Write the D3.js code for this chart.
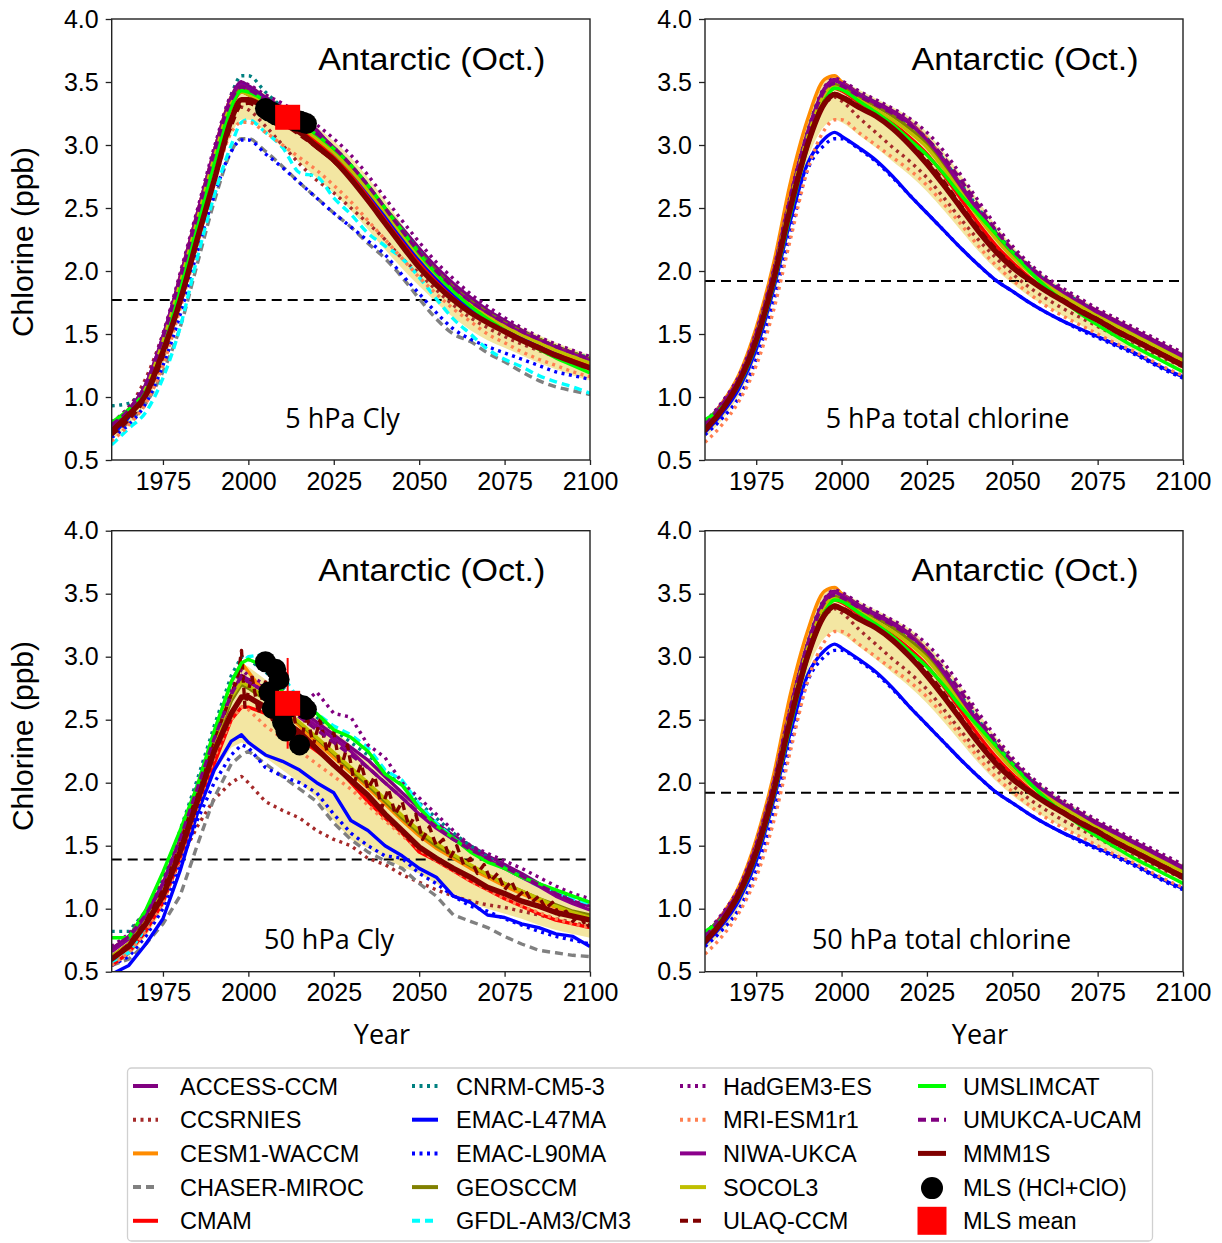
<!DOCTYPE html>
<html><head><meta charset="utf-8">
<script src="https://cdn.jsdelivr.net/npm/d3@7"></script>
<style>body{margin:0;background:#fff;} svg{display:block;}</style>
</head><body><svg id="c" width="1222" height="1243"></svg>
<script>
// ---------------- DATA ----------------
const years = [1960,1965,1970,1975,1980,1985,1990,1995,1998,2000,2005,2010,2015,2020,2025,2030,2035,2040,2045,2050,2055,2060,2065,2070,2075,2080,2085,2090,2095,2100];
const modelNames = ["ACCESS-CCM","CCSRNIES","CESM1-WACCM","CHASER-MIROC","CMAM","CNRM-CM5-3","EMAC-L47MA","EMAC-L90MA","GEOSCCM","GFDL-AM3/CM3","HadGEM3-ES","MRI-ESM1r1","NIWA-UKCA","SOCOL3","ULAQ-CCM","UMSLIMCAT","UMUKCA-UCAM"];
const yTicks = [0.5,1.0,1.5,2.0,2.5,3.0,3.5,4.0];
const xTicks = [1975,2000,2025,2050,2075,2100];

// 5 hPa Cly (rows in modelNames order)
const cly5 = [
 [.78,.9,1.1,1.48,1.95,2.45,2.95,3.38,3.5,3.47,3.38,3.3,3.22,3.12,2.96,2.82,2.66,2.5,2.34,2.18,2.03,1.9,1.79,1.69,1.61,1.53,1.46,1.4,1.35,1.3],
 [.8,.92,1.15,1.5,1.95,2.45,2.9,3.22,3.3,3.28,3.15,3.0,2.85,2.72,2.62,2.5,2.38,2.25,2.1,1.98,1.85,1.73,1.63,1.55,1.48,1.42,1.37,1.32,1.27,1.22],
 [.75,.88,1.08,1.45,1.95,2.45,2.95,3.38,3.45,3.42,3.33,3.24,3.14,3.03,2.92,2.78,2.62,2.44,2.27,2.1,1.95,1.82,1.71,1.62,1.55,1.48,1.42,1.36,1.31,1.26],
 [.72,.8,.95,1.2,1.55,2.05,2.55,2.95,3.05,3.05,2.95,2.83,2.7,2.58,2.46,2.35,2.22,2.1,1.95,1.78,1.62,1.5,1.44,1.35,1.28,1.2,1.13,1.08,1.05,1.02],
 [.72,.85,1.05,1.4,1.85,2.35,2.85,3.3,3.42,3.4,3.32,3.23,3.13,3.02,2.9,2.76,2.6,2.42,2.25,2.08,1.93,1.8,1.69,1.6,1.53,1.46,1.4,1.34,1.29,1.24],
 [.93,.95,1.1,1.45,1.93,2.45,2.95,3.4,3.55,3.55,3.42,3.3,3.2,3.1,2.98,2.84,2.68,2.5,2.33,2.16,2.0,1.87,1.76,1.67,1.59,1.52,1.46,1.4,1.35,1.31],
 [.7,.84,1.05,1.42,1.9,2.4,2.9,3.35,3.48,3.45,3.36,3.27,3.17,3.06,2.94,2.8,2.63,2.45,2.27,2.1,1.95,1.82,1.71,1.62,1.54,1.47,1.4,1.34,1.28,1.23],
 [.68,.78,.95,1.25,1.65,2.15,2.6,2.95,3.04,3.04,2.93,2.82,2.7,2.58,2.46,2.35,2.24,2.13,1.97,1.82,1.67,1.54,1.46,1.4,1.35,1.3,1.25,1.2,1.17,1.14],
 [.76,.88,1.08,1.45,1.92,2.42,2.92,3.35,3.45,3.43,3.35,3.27,3.18,3.08,2.97,2.83,2.67,2.5,2.32,2.15,2.0,1.87,1.76,1.67,1.59,1.52,1.46,1.4,1.35,1.3],
 [.62,.75,.88,1.15,1.55,2.1,2.6,3.0,3.18,3.2,3.1,2.98,2.78,2.75,2.58,2.45,2.3,2.2,2.1,1.95,1.78,1.62,1.5,1.38,1.3,1.24,1.17,1.12,1.08,1.03],
 [.8,.92,1.12,1.5,1.98,2.48,2.98,3.4,3.5,3.48,3.4,3.33,3.25,3.16,3.05,2.92,2.76,2.58,2.4,2.23,2.07,1.94,1.82,1.72,1.63,1.55,1.48,1.42,1.37,1.32],
 [.65,.78,.95,1.25,1.7,2.2,2.7,3.1,3.18,3.18,3.1,3.0,2.9,2.8,2.68,2.55,2.4,2.25,2.1,1.95,1.82,1.7,1.6,1.5,1.43,1.36,1.3,1.25,1.2,1.16],
 [.76,.9,1.1,1.48,1.95,2.45,2.95,3.38,3.48,3.45,3.36,3.28,3.2,3.1,2.98,2.84,2.67,2.49,2.31,2.14,1.99,1.86,1.75,1.66,1.58,1.51,1.45,1.39,1.34,1.29],
 [.74,.87,1.07,1.44,1.9,2.4,2.9,3.33,3.42,3.4,3.32,3.24,3.15,3.05,2.94,2.8,2.64,2.47,2.29,2.12,1.97,1.84,1.73,1.64,1.56,1.49,1.43,1.37,1.32,1.27],
 [.7,.82,1.0,1.32,1.75,2.25,2.72,3.15,3.32,3.33,3.25,3.17,3.08,2.98,2.87,2.73,2.56,2.38,2.2,2.03,1.89,1.77,1.67,1.59,1.52,1.45,1.39,1.33,1.28,1.23],
 [.8,.9,1.05,1.38,1.85,2.35,2.85,3.3,3.43,3.42,3.35,3.27,3.18,3.08,2.97,2.84,2.68,2.5,2.32,2.14,1.98,1.84,1.72,1.62,1.53,1.45,1.38,1.31,1.25,1.19],
 [.78,.9,1.1,1.47,1.94,2.44,2.94,3.36,3.46,3.44,3.36,3.28,3.19,3.09,2.98,2.84,2.68,2.5,2.32,2.15,2.0,1.87,1.76,1.67,1.59,1.52,1.46,1.4,1.35,1.3]
];
const mmmCly5 = [.73,.86,1.02,1.36,1.76,2.25,2.72,3.2,3.36,3.36,3.29,3.19,3.1,2.99,2.88,2.73,2.56,2.38,2.2,2.03,1.89,1.77,1.67,1.59,1.52,1.45,1.39,1.33,1.28,1.23];
const bandLoCly5 = [.66,.78,.95,1.25,1.68,2.18,2.68,3.08,3.2,3.2,3.1,2.98,2.86,2.74,2.62,2.48,2.33,2.17,2.02,1.88,1.75,1.63,1.53,1.45,1.39,1.33,1.27,1.22,1.17,1.13];
const bandHiCly5 = [.8,.93,1.12,1.5,1.98,2.48,2.98,3.42,3.5,3.48,3.4,3.32,3.24,3.14,3.03,2.9,2.74,2.56,2.37,2.19,2.03,1.9,1.79,1.7,1.62,1.55,1.49,1.43,1.38,1.33];

// total chlorine (5 hPa and 50 hPa panels look identical)
const totCl = [
 [.79,.95,1.16,1.51,1.99,2.6,3.1,3.45,3.52,3.5,3.41,3.34,3.27,3.18,3.05,2.88,2.68,2.48,2.31,2.16,2.03,1.92,1.83,1.75,1.68,1.61,1.54,1.47,1.4,1.33],
 [.76,.92,1.14,1.48,1.95,2.55,3.05,3.32,3.38,3.35,3.22,3.1,2.98,2.87,2.74,2.58,2.41,2.25,2.11,1.98,1.87,1.78,1.7,1.63,1.56,1.49,1.42,1.36,1.3,1.24],
 [.78,.95,1.18,1.55,2.05,2.7,3.2,3.52,3.55,3.5,3.4,3.32,3.25,3.17,3.05,2.87,2.67,2.46,2.28,2.12,2.0,1.9,1.81,1.73,1.65,1.58,1.51,1.44,1.37,1.3],
 null,
 [.74,.9,1.12,1.46,1.95,2.55,3.05,3.38,3.45,3.43,3.34,3.26,3.17,3.06,2.93,2.76,2.57,2.38,2.21,2.07,1.95,1.85,1.77,1.69,1.62,1.55,1.48,1.41,1.34,1.27],
 [.8,.95,1.15,1.5,1.98,2.58,3.1,3.45,3.5,3.48,3.4,3.33,3.25,3.16,3.05,2.88,2.69,2.5,2.32,2.16,2.03,1.92,1.83,1.75,1.67,1.6,1.53,1.46,1.39,1.32],
 [.72,.87,1.07,1.38,1.85,2.4,2.85,3.05,3.1,3.07,2.98,2.88,2.75,2.6,2.46,2.32,2.18,2.05,1.93,1.84,1.75,1.67,1.6,1.54,1.48,1.42,1.36,1.29,1.22,1.16],
 [.7,.83,1.0,1.3,1.75,2.3,2.8,3.0,3.05,3.05,2.97,2.87,2.74,2.6,2.46,2.32,2.18,2.05,1.93,1.84,1.75,1.67,1.6,1.53,1.47,1.41,1.35,1.28,1.21,1.15],
 [.76,.92,1.14,1.49,1.97,2.57,3.08,3.42,3.48,3.46,3.38,3.31,3.23,3.13,3.01,2.84,2.65,2.45,2.27,2.12,2.0,1.9,1.81,1.73,1.65,1.58,1.51,1.44,1.37,1.3],
 null,
 [.8,.96,1.17,1.52,2.0,2.6,3.1,3.46,3.53,3.51,3.43,3.36,3.29,3.21,3.1,2.95,2.76,2.56,2.37,2.2,2.06,1.95,1.86,1.78,1.7,1.63,1.56,1.49,1.42,1.35],
 [.64,.78,.97,1.25,1.68,2.25,2.8,3.12,3.2,3.2,3.1,3.0,2.9,2.8,2.68,2.53,2.37,2.2,2.05,1.93,1.82,1.72,1.64,1.57,1.5,1.43,1.37,1.3,1.23,1.17],
 [.78,.94,1.15,1.5,1.98,2.58,3.08,3.44,3.51,3.49,3.4,3.33,3.26,3.17,3.04,2.87,2.67,2.48,2.3,2.15,2.02,1.91,1.82,1.74,1.67,1.6,1.53,1.46,1.39,1.32],
 [.75,.91,1.13,1.48,1.96,2.56,3.06,3.4,3.46,3.44,3.36,3.28,3.2,3.1,2.98,2.81,2.62,2.43,2.26,2.11,1.99,1.89,1.8,1.72,1.64,1.57,1.5,1.43,1.36,1.29],
 [.74,.9,1.12,1.45,1.93,2.52,3.02,3.35,3.41,3.39,3.31,3.23,3.14,3.02,2.88,2.71,2.52,2.34,2.18,2.05,1.94,1.85,1.77,1.69,1.62,1.54,1.47,1.4,1.33,1.26],
 [.82,.92,1.1,1.42,1.88,2.45,2.98,3.35,3.45,3.44,3.35,3.26,3.16,3.04,2.92,2.77,2.6,2.45,2.3,2.15,2.0,1.87,1.76,1.66,1.57,1.49,1.41,1.34,1.27,1.2],
 [.78,.94,1.15,1.5,1.98,2.58,3.08,3.43,3.49,3.47,3.39,3.32,3.25,3.16,3.05,2.9,2.72,2.52,2.33,2.17,2.04,1.93,1.84,1.76,1.68,1.61,1.54,1.47,1.4,1.33]
];
const mmmTot = [.74,.9,1.12,1.45,1.92,2.5,3.0,3.33,3.4,3.38,3.3,3.23,3.13,3.0,2.85,2.68,2.5,2.32,2.16,2.03,1.93,1.84,1.76,1.68,1.61,1.53,1.46,1.39,1.32,1.25];
const bandLoTot = [.68,.82,1.02,1.33,1.78,2.35,2.88,3.15,3.2,3.18,3.08,2.98,2.87,2.76,2.63,2.48,2.32,2.16,2.02,1.9,1.8,1.72,1.64,1.57,1.5,1.44,1.38,1.32,1.26,1.2];
const bandHiTot = [.8,.96,1.18,1.55,2.05,2.68,3.18,3.52,3.56,3.52,3.44,3.37,3.3,3.22,3.1,2.94,2.76,2.56,2.37,2.2,2.06,1.95,1.86,1.78,1.7,1.63,1.56,1.49,1.42,1.35];

// 50 hPa Cly (ULAQ-CCM given separately on its own, denser year grid)
const cly50 = [
 [.68,.78,.95,1.2,1.55,1.95,2.35,2.7,2.85,2.82,2.75,2.68,2.58,2.48,2.38,2.28,2.18,2.05,1.92,1.8,1.68,1.58,1.5,1.42,1.35,1.28,1.2,1.12,1.06,1.02],
 [.62,.72,.88,1.08,1.38,1.65,1.87,2.0,2.05,2.0,1.85,1.78,1.72,1.62,1.55,1.5,1.4,1.35,1.27,1.21,1.15,1.1,1.06,1.03,1.01,.98,.95,.92,.89,.86],
 [.62,.72,.9,1.15,1.52,1.95,2.38,2.8,2.95,2.88,2.7,2.58,2.45,2.32,2.2,2.08,1.96,1.83,1.7,1.58,1.48,1.4,1.32,1.25,1.18,1.12,1.06,1.01,.97,.93],
 [.55,.6,.72,.88,1.1,1.5,1.88,2.15,2.22,2.25,2.15,2.05,1.95,1.85,1.68,1.55,1.45,1.38,1.32,1.2,1.1,.95,.9,.85,.78,.72,.67,.65,.63,.62],
 [.55,.65,.82,1.05,1.4,1.8,2.15,2.5,2.6,2.6,2.55,2.45,2.35,2.25,2.15,2.0,1.85,1.72,1.6,1.45,1.38,1.3,1.22,1.15,1.08,1.02,.96,.91,.88,.85],
 [.82,.82,.98,1.25,1.62,2.02,2.45,2.85,3.0,2.98,2.88,2.76,2.63,2.52,2.42,2.32,2.22,2.1,1.98,1.84,1.72,1.6,1.5,1.41,1.33,1.26,1.2,1.14,1.09,1.05],
 [.48,.55,.72,.92,1.3,1.75,2.1,2.33,2.38,2.32,2.22,2.17,2.1,2.0,1.92,1.7,1.62,1.5,1.42,1.32,1.25,1.1,1.05,.95,.93,.88,.85,.8,.78,.7],
 [.55,.62,.78,1.0,1.35,1.7,2.0,2.22,2.3,2.28,2.12,2.05,2.0,1.92,1.75,1.6,1.5,1.42,1.4,1.28,1.2,1.1,1.02,.98,.92,.87,.82,.78,.75,.72],
 [.62,.72,.9,1.13,1.48,1.9,2.3,2.65,2.78,2.75,2.66,2.57,2.47,2.35,2.23,2.1,1.98,1.85,1.72,1.6,1.5,1.42,1.34,1.27,1.2,1.14,1.08,1.03,.98,.95],
 [.58,.65,.85,1.15,1.55,1.98,2.4,2.8,2.95,3.0,3.02,2.85,2.65,2.55,2.45,2.38,2.28,2.1,2.02,1.83,1.68,1.56,1.46,1.38,1.32,1.25,1.18,1.13,1.08,1.04],
 [.7,.8,.98,1.22,1.58,1.98,2.4,2.75,2.9,2.85,2.78,2.65,2.6,2.72,2.55,2.52,2.3,2.2,2.0,1.88,1.75,1.62,1.5,1.44,1.38,1.32,1.25,1.18,1.12,1.08],
 [.55,.65,.82,1.05,1.4,1.8,2.2,2.5,2.6,2.58,2.45,2.35,2.25,2.15,2.05,1.95,1.82,1.7,1.58,1.47,1.38,1.3,1.22,1.15,1.08,1.02,.97,.92,.88,.85],
 [.66,.76,.93,1.18,1.52,1.92,2.32,2.68,2.82,2.8,2.72,2.65,2.55,2.45,2.35,2.25,2.12,2.0,1.88,1.75,1.64,1.55,1.47,1.39,1.32,1.25,1.18,1.1,1.04,.99],
 [.62,.72,.9,1.13,1.5,1.92,2.32,2.68,2.8,2.77,2.68,2.58,2.48,2.36,2.24,2.12,2.0,1.87,1.74,1.62,1.52,1.43,1.35,1.27,1.2,1.14,1.08,1.02,.97,.93],
 null,
 [.77,.77,.99,1.29,1.62,1.97,2.41,2.8,2.95,2.98,2.92,2.72,2.57,2.55,2.42,2.36,2.25,2.07,1.98,1.8,1.66,1.56,1.45,1.37,1.32,1.25,1.2,1.15,1.1,1.05],
 [.68,.78,.95,1.2,1.55,1.95,2.35,2.7,2.85,2.8,2.72,2.62,2.52,2.42,2.32,2.22,2.12,2.0,1.88,1.76,1.65,1.55,1.47,1.4,1.33,1.26,1.19,1.12,1.06,1.0]
];
const ulaqYears50 = [1960,1965,1970,1975,1980,1985,1990,1993,1995,1997,1998,1999,2001,2003,2005,2007,2009,2011,2013,2015,2017,2019,2021,2023,2025,2027,2029,2031,2033,2035,2037,2039,2041,2043,2045,2047,2049,2051,2053,2055,2057,2059,2061,2063,2065,2067,2069,2071,2073,2075,2077,2079,2081,2083,2085,2087,2089,2091,2093,2095,2097,2099,2100];
const ulaqCly50 = [.6,.72,.9,1.15,1.5,1.95,2.35,2.55,2.7,2.85,3.05,2.6,2.85,2.55,2.8,2.5,2.7,2.4,2.6,2.25,2.55,2.3,2.5,2.25,2.4,2.1,2.3,2.0,2.15,1.95,2.05,1.8,1.95,1.75,1.85,1.65,1.75,1.55,1.65,1.5,1.55,1.4,1.5,1.35,1.4,1.28,1.35,1.22,1.28,1.15,1.22,1.1,1.15,1.05,1.1,1.0,1.05,.95,.98,.9,.95,.85,.88];
const mmmCly50 = [.6,.7,.88,1.1,1.45,1.85,2.25,2.55,2.68,2.68,2.6,2.5,2.4,2.27,2.14,2.02,1.9,1.75,1.62,1.49,1.4,1.32,1.25,1.17,1.12,1.06,1.02,.97,.94,.91];
const bandLoCly50 = [.55,.62,.78,1.0,1.35,1.72,2.08,2.28,2.32,2.3,2.2,2.1,2.0,1.88,1.7,1.55,1.48,1.4,1.33,1.28,1.2,1.12,1.05,1.0,.96,.92,.87,.83,.8,.77];
const bandHiCly50 = [.7,.8,.98,1.25,1.6,2.02,2.42,2.8,2.95,2.92,2.82,2.72,2.62,2.52,2.42,2.3,2.18,2.05,1.92,1.8,1.68,1.58,1.49,1.4,1.33,1.26,1.19,1.13,1.07,1.02];

// MLS observations
const mlsYears = [2005,2006,2007,2008,2009,2010,2011,2012,2013,2014,2015,2016,2017];
const mlsCly5 = [3.29,3.27,3.26,3.24,3.23,3.22,3.22,3.21,3.2,3.19,3.19,3.18,3.17];
const mlsCly50 = [2.96,2.72,2.59,2.90,2.82,2.48,2.41,2.60,2.64,2.63,2.30,2.61,2.58];
const mlsMeanYear = [2011.5];
const mlsMeanCly5 = [3.22], mlsErrCly5 = [0.05];
const mlsMeanCly50 = [2.63], mlsErrCly50 = [0.36];
const refLevels = [1.77, 1.92, 1.39, 1.92];

// ---------------- STYLES ----------------
const modelColors = ["#800080","#a52a2a","#ff8c00","#808080","#ff0000","#008080","#0000ff","#0000ff","#808000","#00ffff","#800080","#ff7f50","#8b008b","#bfbf00","#800000","#00ff00","#800080"];
const modelDash = ["","3,4.5","","8,5","","3,4.5","","3,4.5","","8,5","3,4.5","3,4.5","","","8,5","","8,5"];
const mmmColor = "#800000";
const bandColor = "#f3e6a2";
const axisFont = "'Liberation Sans', Arial, sans-serif";
const labelFont = "'Open Sans', 'Noto Sans', sans-serif";

const svg = d3.select("#c");
svg.append("rect").attr("width",1222).attr("height",1243).attr("fill","#fff");

const panels = [
 {x0:111.7,x1:590,y0:460,y1:19,rows:cly5,mmm:mmmCly5,lo:bandLoCly5,hi:bandHiCly5,ref:refLevels[0],label:"5 hPa Cly",lx:342.5,ly:428,mls:mlsCly5,mean:mlsMeanCly5,err:mlsErrCly5,yl:242,curve:d3.curveMonotoneX},
 {x0:705,x1:1183,y0:460,y1:19,rows:totCl,mmm:mmmTot,lo:bandLoTot,hi:bandHiTot,ref:refLevels[1],label:"5 hPa total chlorine",lx:947.5,ly:428,curve:d3.curveMonotoneX},
 {x0:111.7,x1:590,y0:971.7,y1:530.7,rows:cly50,mmm:mmmCly50,lo:bandLoCly50,hi:bandHiCly50,ref:refLevels[2],label:"50 hPa Cly",lx:329,ly:949,mls:mlsCly50,mean:mlsMeanCly50,err:mlsErrCly50,yl:736,year:382,curve:d3.curveLinear,
  extra:{index:14,years:ulaqYears50,values:ulaqCly50}},
 {x0:705,x1:1183,y0:971.7,y1:530.7,rows:totCl,mmm:mmmTot,lo:bandLoTot,hi:bandHiTot,ref:refLevels[3],label:"50 hPa total chlorine",lx:941.5,ly:949,year:980,curve:d3.curveMonotoneX}
];

panels.forEach((p,pi)=>{
  const x = d3.scaleLinear().domain([1960,2100]).range([p.x0,p.x1]);
  const y = d3.scaleLinear().domain([0.5,4.0]).range([p.y0,p.y1]);
  const g = svg.append("g");
  const cid = "clip"+pi;
  g.append("clipPath").attr("id",cid).append("rect")
    .attr("x",p.x0).attr("y",p.y1).attr("width",p.x1-p.x0).attr("height",p.y0-p.y1);
  const pg = g.append("g").attr("clip-path",`url(#${cid})`);

  const area = d3.area().x((d,i)=>x(years[i])).y0((d,i)=>y(p.lo[i])).y1((d,i)=>y(p.hi[i])).curve(p.curve);
  pg.append("path").attr("d",area(years)).attr("fill",bandColor).attr("stroke","none");

  pg.append("line").attr("x1",p.x0).attr("x2",p.x1).attr("y1",y(p.ref)).attr("y2",y(p.ref))
    .attr("stroke","#000").attr("stroke-width",2).attr("stroke-dasharray","10,6");

  const line = d3.line().x((d,i)=>x(years[i])).y(d=>y(d)).curve(p.curve);
  p.rows.forEach((r,mi)=>{
    let d = null;
    if(r) d = line(r);
    else if(p.extra && p.extra.index===mi){
      const ex = p.extra;
      d = d3.line().x((v,i)=>x(ex.years[i])).y(v=>y(v)).curve(d3.curveLinear)(ex.values);
    }
    if(!d) return;
    pg.append("path").attr("d",d).attr("fill","none")
      .attr("stroke",modelColors[mi]).attr("stroke-width",3.4)
      .attr("stroke-dasharray",modelDash[mi]||null).attr("stroke-linejoin","round");
  });
  pg.append("path").attr("d",line(p.mmm)).attr("fill","none")
    .attr("stroke",mmmColor).attr("stroke-width",5.5).attr("stroke-linejoin","round").attr("stroke-linecap","round");

  if(p.mls){
    g.append("line").attr("x1",x(mlsMeanYear[0])).attr("x2",x(mlsMeanYear[0]))
      .attr("y1",y(p.mean[0]+p.err[0])).attr("y2",y(p.mean[0]-p.err[0]))
      .attr("stroke","#ff0000").attr("stroke-width",2);
    g.selectAll(null).data(p.mls).enter().append("circle")
      .attr("cx",(d,i)=>x(mlsYears[i])).attr("cy",d=>y(d)).attr("r",10.5).attr("fill","#000");
    g.append("rect").attr("x",x(mlsMeanYear[0])-12.5).attr("y",y(p.mean[0])-12.5)
      .attr("width",25).attr("height",25).attr("fill","#ff0000");
  }

  const ay = g.append("g").attr("transform",`translate(${p.x0},0)`)
    .call(d3.axisLeft(y).tickValues(yTicks).tickFormat(d3.format(".1f")).tickSize(6).tickPadding(7));
  const ax = g.append("g").attr("transform",`translate(0,${p.y0})`)
    .call(d3.axisBottom(x).tickValues(xTicks).tickFormat(d3.format("d")).tickSize(5).tickPadding(7));
  [ax,ay].forEach(a=>{
    a.select(".domain").remove();
    a.selectAll("line").attr("stroke","#222").attr("stroke-width",1.3);
    a.selectAll("text").attr("fill","#000").attr("font-family",axisFont);
  });
  ay.selectAll("text").attr("font-size",25);
  ax.selectAll("text").attr("font-size",25);
  g.append("rect").attr("x",p.x0).attr("y",p.y1).attr("width",p.x1-p.x0).attr("height",p.y0-p.y1)
    .attr("fill","none").attr("stroke","#222").attr("stroke-width",1.4);

  g.append("text").attr("x",(p.x0+p.x1)/2+81).attr("y",p.y1+50.5).attr("text-anchor","middle")
    .attr("font-family",axisFont).attr("font-size",31).attr("textLength",227).attr("lengthAdjust","spacingAndGlyphs")
    .text("Antarctic (Oct.)");
  g.append("text").attr("x",p.lx).attr("y",p.ly).attr("text-anchor","middle")
    .attr("font-family",labelFont).attr("font-size",27).text(p.label);
  if(p.yl){
    g.append("text").attr("transform",`translate(33,${p.yl}) rotate(-90)`).attr("text-anchor","middle")
      .attr("font-family",axisFont).attr("font-size",30).text("Chlorine (ppb)");
  }
  if(p.year){
    g.append("text").attr("x",p.year).attr("y",1044).attr("text-anchor","middle")
      .attr("font-family",labelFont).attr("font-size",27).text("Year");
  }
});

// ---------------- LEGEND ----------------
const lg = svg.append("g");
lg.append("rect").attr("x",127.5).attr("y",1068).attr("width",1025).attr("height",173)
  .attr("rx",4).attr("fill","#fff").attr("stroke","#d0d0d0").attr("stroke-width",1.3);
const cols = [{a:133,b:158,t:180},{a:412,b:438,t:456},{a:680,b:706,t:723},{a:918,b:946,t:963}];
const rowY = i => 1086 + i*33.7;
const entries = modelNames.map((n,i)=>({name:n,type:"line",color:modelColors[i],dash:modelDash[i],w:4}));
entries.push({name:"MMM1S",type:"line",color:mmmColor,dash:"",w:5});
entries.push({name:"MLS (HCl+ClO)",type:"circle"});
entries.push({name:"MLS mean",type:"square"});
entries.forEach((e,i)=>{
  const c = cols[Math.floor(i/5)], yy = rowY(i%5);
  if(e.type==="line"){
    lg.append("line").attr("x1",c.a).attr("x2",c.b).attr("y1",yy).attr("y2",yy)
      .attr("stroke",e.color).attr("stroke-width",e.w).attr("stroke-dasharray",e.dash||null);
  } else if(e.type==="circle"){
    lg.append("circle").attr("cx",(c.a+c.b)/2).attr("cy",yy+1).attr("r",11).attr("fill","#000");
  } else {
    lg.append("rect").attr("x",(c.a+c.b)/2-14.5).attr("y",yy-14).attr("width",29).attr("height",28).attr("fill","#ff0000");
  }
  lg.append("text").attr("x",c.t).attr("y",yy+8.5).attr("font-family",axisFont).attr("font-size",23.5)
    .attr("fill","#000").text(e.name);
});
</script></body></html>
